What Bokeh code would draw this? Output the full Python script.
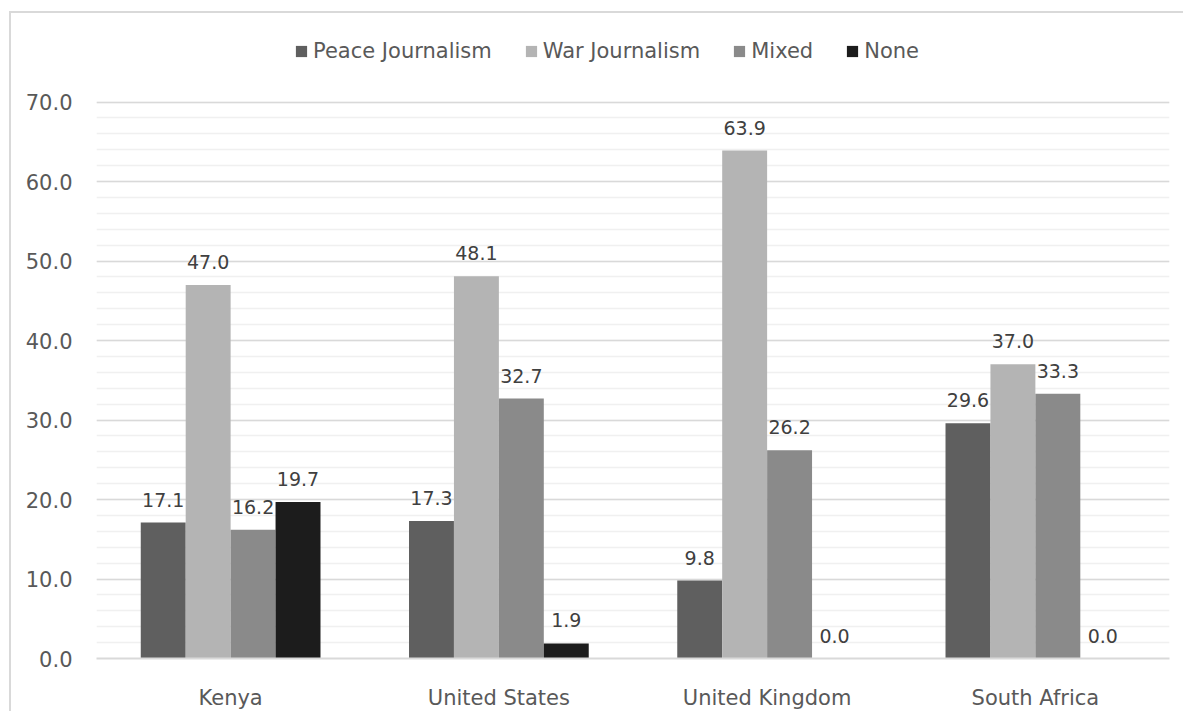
from bokeh.plotting import figure
from bokeh.models import ColumnDataSource, FactorRange, Legend, LegendItem, Range1d, NumeralTickFormatter, LabelSet, FixedTicker
from bokeh.transform import dodge
from bokeh.core.properties import value
from bokeh.embed import file_html
from bokeh.resources import INLINE

categories = ["Kenya", "United States", "United Kingdom", "South Africa"]
series = ["Peace Journalism", "War Journalism", "Mixed", "None"]
peace = [17.1, 17.3, 9.8, 29.6]
war = [47.0, 48.1, 63.9, 37.0]
mixed = [16.2, 32.7, 26.2, 33.3]
none = [19.7, 1.9, 0.0, 0.0]
colors = ["#5f5f5f", "#b4b4b4", "#8a8a8a", "#1c1c1c"]
y_major_ticks = [0, 10, 20, 30, 40, 50, 60, 70]
y_minor_ticks = list(range(0, 71, 2))

FONT = "DejaVu Sans"
TXT = "#595959"

# y range extends above 70 to leave room for the legend inside the frame
p = figure(x_range=FactorRange(*categories, range_padding=0), y_range=Range1d(0, 79),
           width=1174, height=700, output_backend="svg", toolbar_location=None,
           min_border_left=85, min_border_right=16, min_border_top=17, min_border_bottom=55,
           margin=(11, 0, 0, 9), outline_line_color=None,
           styles={"border-top": "2px solid #d9d9d9", "border-left": "2px solid #d9d9d9"})

values = [peace, war, mixed, none]
bw = 0.1675
offsets = [-1.5 * bw, -0.5 * bw, 0.5 * bw, 1.5 * bw]
items = []
for name, vals, col, off in zip(series, values, colors, offsets):
    src = ColumnDataSource(dict(x=categories, top=vals, lab=["%.1f" % v for v in vals]))
    r = p.vbar(x=dodge("x", off, range=p.x_range), top="top", width=bw, source=src,
               fill_color=col, line_color=None)
    items.append(LegendItem(label=name, renderers=[r]))
    lbl = LabelSet(x=dodge("x", off, range=p.x_range), y="top", text="lab", source=src,
                   text_align="center", text_baseline="bottom", y_offset=16,
                   text_font=value(FONT), text_font_size="19px", text_color="#404040")
    p.add_layout(lbl)

legend = Legend(items=items, orientation="horizontal", location=(198, 595),
                glyph_width=14, glyph_height=14, label_standoff=5, spacing=32,
                label_text_font=FONT, label_text_font_size="21px", label_text_color=TXT,
                border_line_color=None, background_fill_alpha=0, padding=0, margin=0)
p.add_layout(legend, "center")

p.yaxis.ticker = FixedTicker(ticks=y_major_ticks, minor_ticks=y_minor_ticks)
p.yaxis.formatter = NumeralTickFormatter(format="0.0")
p.yaxis.axis_line_color = None
p.yaxis.major_tick_line_color = None
p.yaxis.minor_tick_line_color = None
p.yaxis.major_label_text_font = FONT
p.yaxis.major_label_text_font_size = "21px"
p.yaxis.major_label_text_color = TXT
p.yaxis.major_label_standoff = 18

p.xaxis.axis_line_color = "#d9d9d9"
p.xaxis.axis_line_width = 2
p.xaxis.major_tick_line_color = None
p.xaxis.minor_tick_line_color = None
p.xaxis.major_label_text_font = FONT
p.xaxis.major_label_text_font_size = "21px"
p.xaxis.major_label_text_color = TXT
p.xaxis.major_label_standoff = 21

p.xgrid.grid_line_color = None
p.ygrid.grid_line_color = "#d9d9d9"
p.ygrid.grid_line_width = 1.5
p.ygrid.minor_grid_line_color = "#f0f0f0"
p.ygrid.minor_grid_line_width = 1.5

open("out.html", "w").write(file_html(p, INLINE))
